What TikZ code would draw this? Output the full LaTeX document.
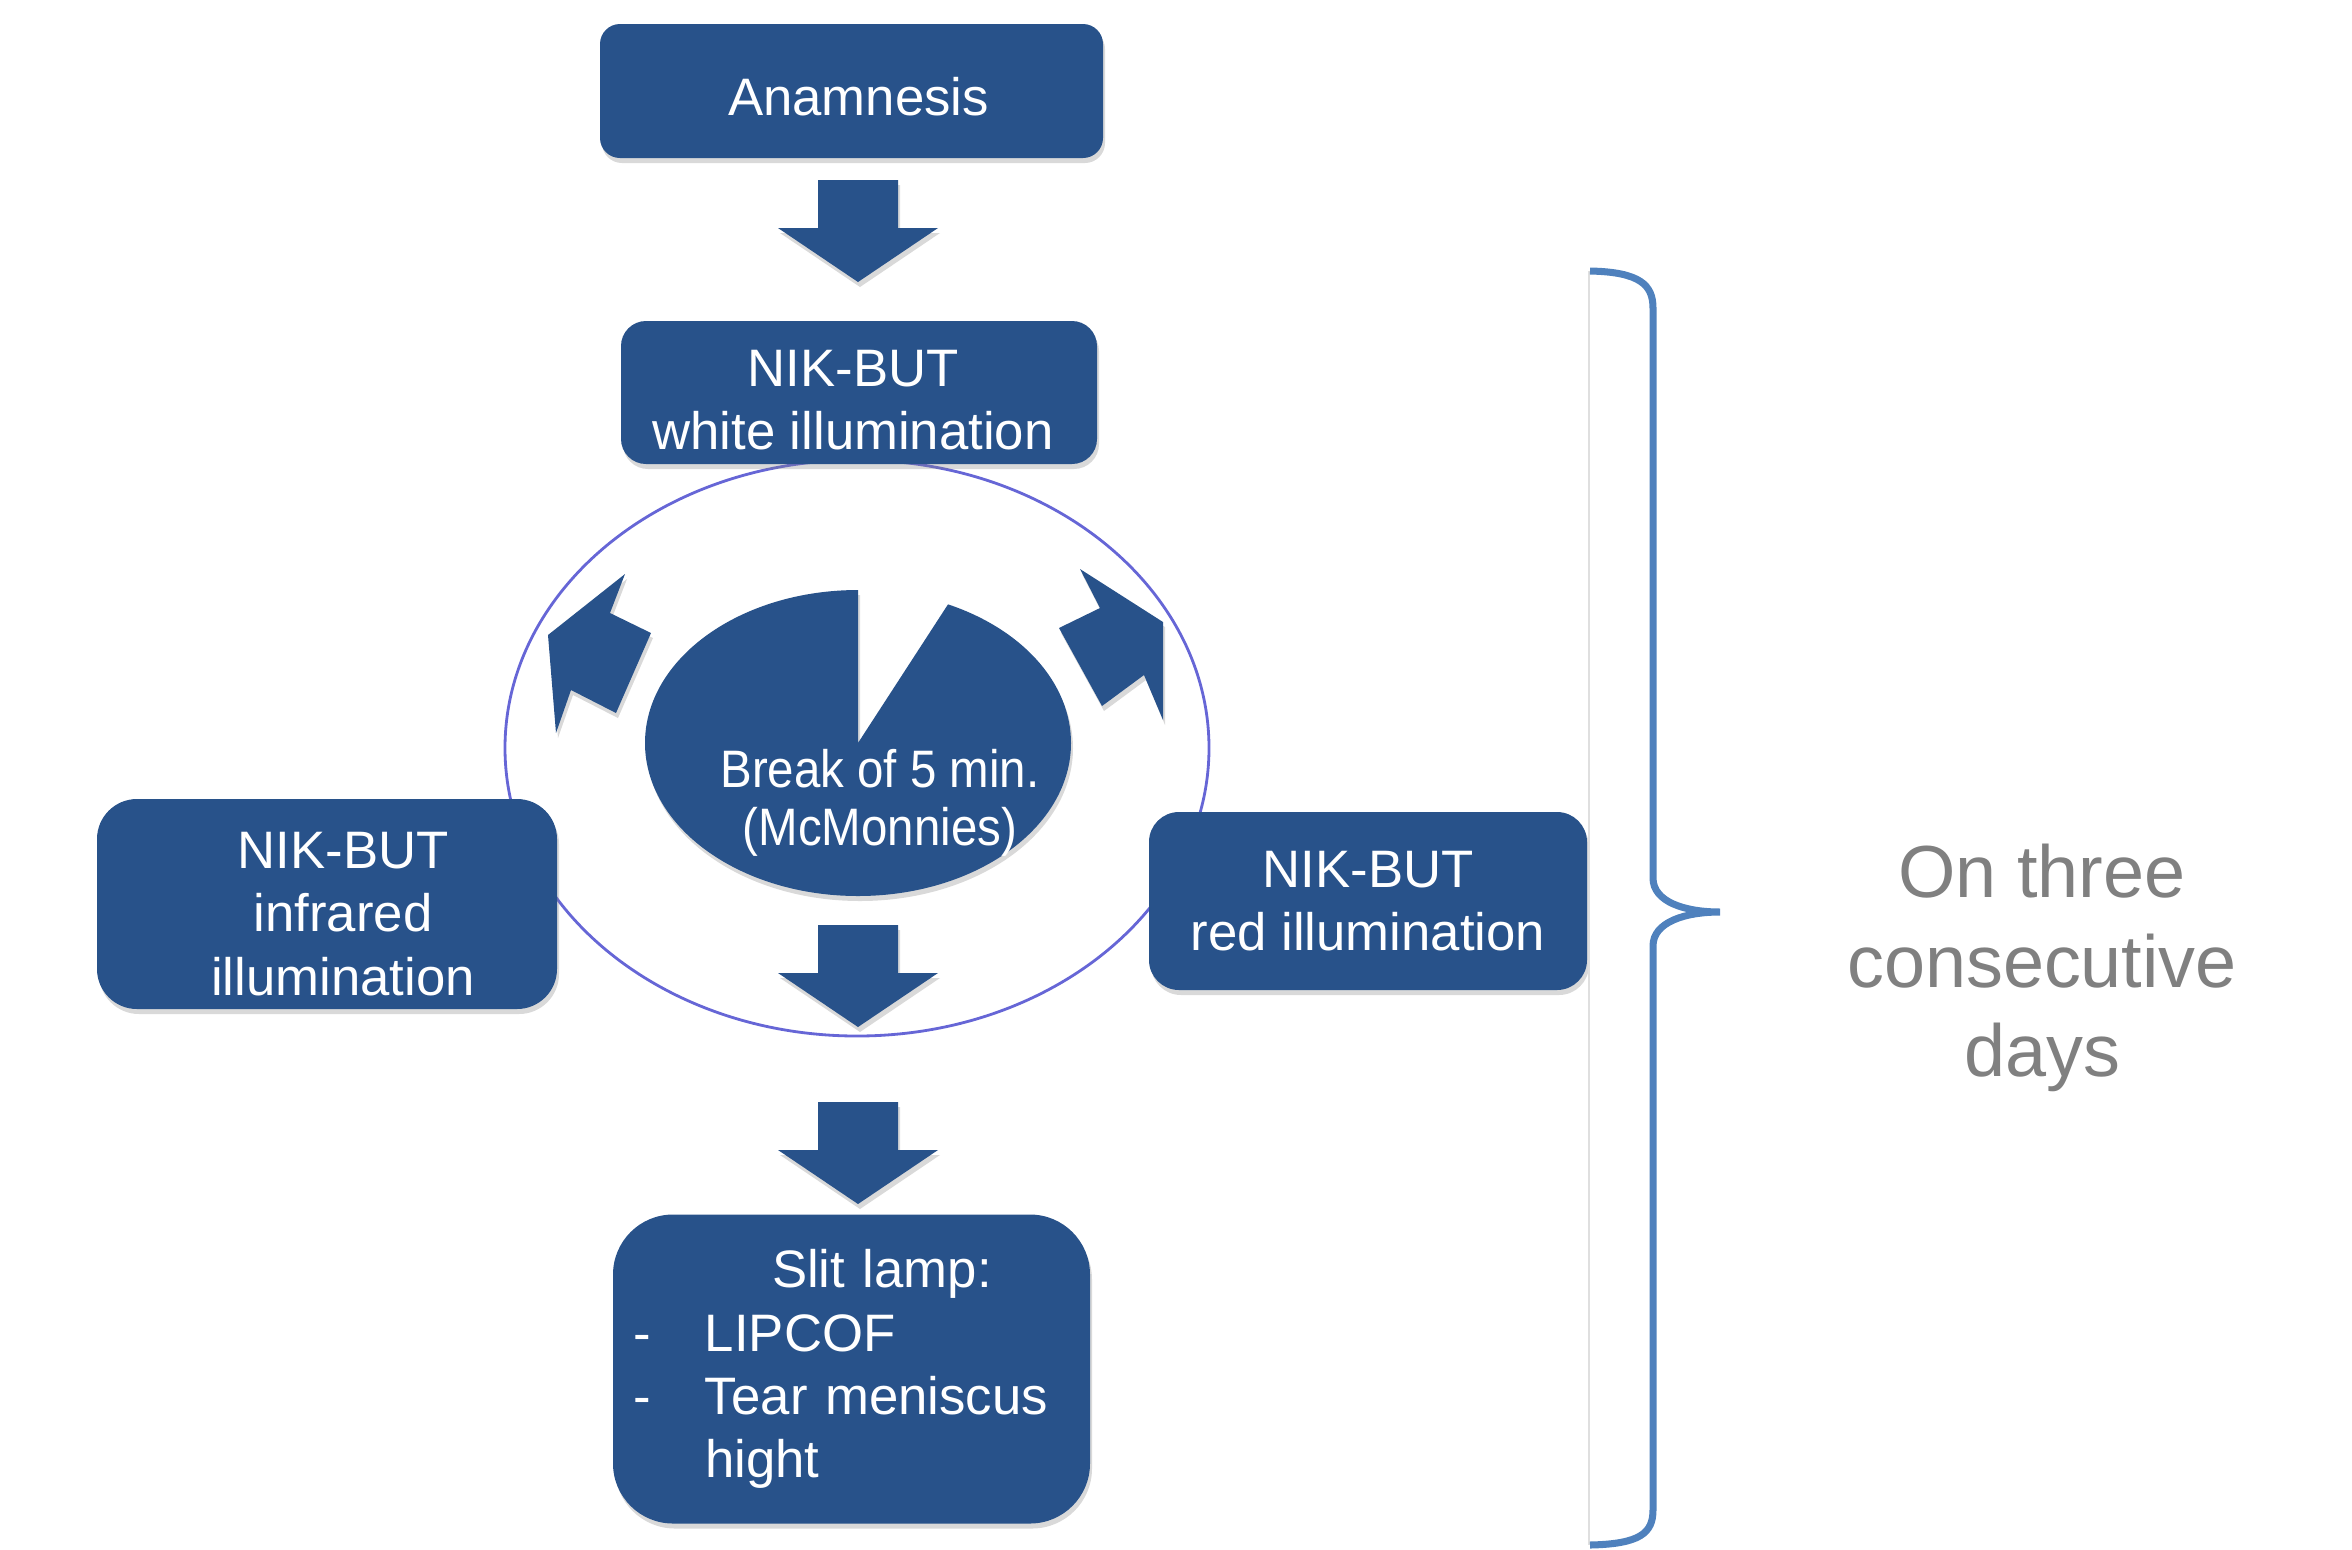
\documentclass[tikz,border=0pt]{standalone}
\usepackage{fontspec}
\setmainfont{Liberation Sans}
\newfontfamily\narrowfont[FakeStretch=0.9]{Liberation Sans}
\usetikzlibrary{shadows}

\definecolor{boxblue}{RGB}{40,82,138}
\definecolor{bracecol}{RGB}{79,129,189}
\definecolor{ringcol}{RGB}{102,102,214}
\definecolor{daygray}{RGB}{128,128,128}

\tikzset{
  shade3d/.style={drop shadow={opacity=0.3, shadow xshift=0.02cm, shadow yshift=-0.05cm}},
  stepbox/.style={rectangle, rounded corners=#1, fill=boxblue, text=white, align=center,
    inner sep=0pt, font=\fontsize{15}{18}\selectfont, shade3d},
  stepbox/.default=0.25cm,
  boxtext/.style={text=white, align=center, inner sep=0pt, font=\fontsize{15}{18}\selectfont},
  downarrow/.pic={
    \fill[boxblue, shade3d] (-0.40,0) -- (0.40,0) -- (0.40,-0.48) -- (0.80,-0.48)
      -- (0,-1.02) -- (-0.80,-0.48) -- (-0.40,-0.48) -- cycle;}
}

\begin{document}
\begin{tikzpicture}[thick]
  \useasboundingbox (0,0) rectangle (23.52,-15.49);

  \draw[ringcol, line width=0.8pt] (8.57,-7.48) ellipse[x radius=3.52, y radius=2.88];

  \foreach \y in {-1.80, -9.25, -11.02}
    \pic at (8.58,\y) {downarrow};

  \node[stepbox=0.2cm, minimum width=5.03cm, minimum height=1.34cm] (anam) at (8.515,-0.91) {};
  \node[boxtext] (anamtext) at ([xshift=0.07cm, yshift=-0.06cm]anam.center) {Anamnesis};
  \node[stepbox, minimum width=4.76cm, minimum height=1.43cm] (white) at (8.59,-3.925) {};
  \node[boxtext] (whitetext) at ([xshift=-0.06cm, yshift=-0.075cm]white.center) {NIK-BUT\\white illumination};
  \node[stepbox=0.4cm, minimum width=4.60cm, minimum height=2.10cm] (infra) at (3.27,-9.04) {};
  \node[boxtext] (infratext) at ([xshift=0.16cm, yshift=-0.1cm]infra.center) {NIK-BUT\\infrared\\illumination};
  \node[stepbox=0.3cm, minimum width=4.38cm, minimum height=1.78cm] (red) at (13.68,-9.01) {NIK-BUT\\red illumination};
  \node[stepbox=0.6cm, minimum width=4.77cm, minimum height=3.09cm, align=left, text width=4.37cm] (slit) at (8.515,-13.69)
    {\hspace*{1.39cm}Slit lamp:\\
     \makebox[0.72cm][l]{-}LIPCOF\\
     \makebox[0.72cm][l]{-}Tear meniscus\\
     \hspace*{0.72cm}hight};

  \begin{scope}[fill=boxblue]
    \fill[shade3d] (8.58,-7.43) -- ++(0,1.53) arc[start angle=90, end angle=425, x radius=2.13cm, y radius=1.53cm] -- cycle;
    \fill[shade3d] (6.25,-5.74) -- (6.10,-6.13) -- (6.51,-6.33) -- (6.16,-7.13) -- (5.71,-6.90) -- (5.56,-7.33) -- (5.48,-6.35) -- cycle;
    \fill[shade3d] (10.80,-5.69) -- (11.63,-6.22) -- (11.63,-7.20) -- (11.44,-6.75) -- (11.02,-7.06) -- (10.59,-6.28) -- (11.00,-6.08) -- cycle;
  \end{scope}
  \node[text=white, align=center, inner sep=0pt, font=\narrowfont\fontsize{15}{16.5}\selectfont] (pause) at (8.80,-8.03) {Break of 5 min.\\(McMonnies)};

  \draw[gray!25, line width=0.6pt] (15.89,-2.71) -- (15.89,-15.45);
  \draw[bracecol, line width=2pt] (15.90,-2.71) .. controls (16.40,-2.72) and (16.53,-2.85) .. (16.53,-3.08)
    -- (16.53,-8.78) .. controls (16.53,-9.02) and (16.85,-9.12) .. (17.20,-9.12)
    .. controls (16.85,-9.12) and (16.53,-9.22) .. (16.53,-9.46)
    -- (16.53,-15.10) .. controls (16.53,-15.33) and (16.40,-15.44) .. (15.90,-15.45);
  \node[text=daygray, align=center, inner sep=0pt, font=\fontsize{21}{25.5}\selectfont] (days) at (20.42,-9.68) {On three\\consecutive\\days};
\end{tikzpicture}
\end{document}
